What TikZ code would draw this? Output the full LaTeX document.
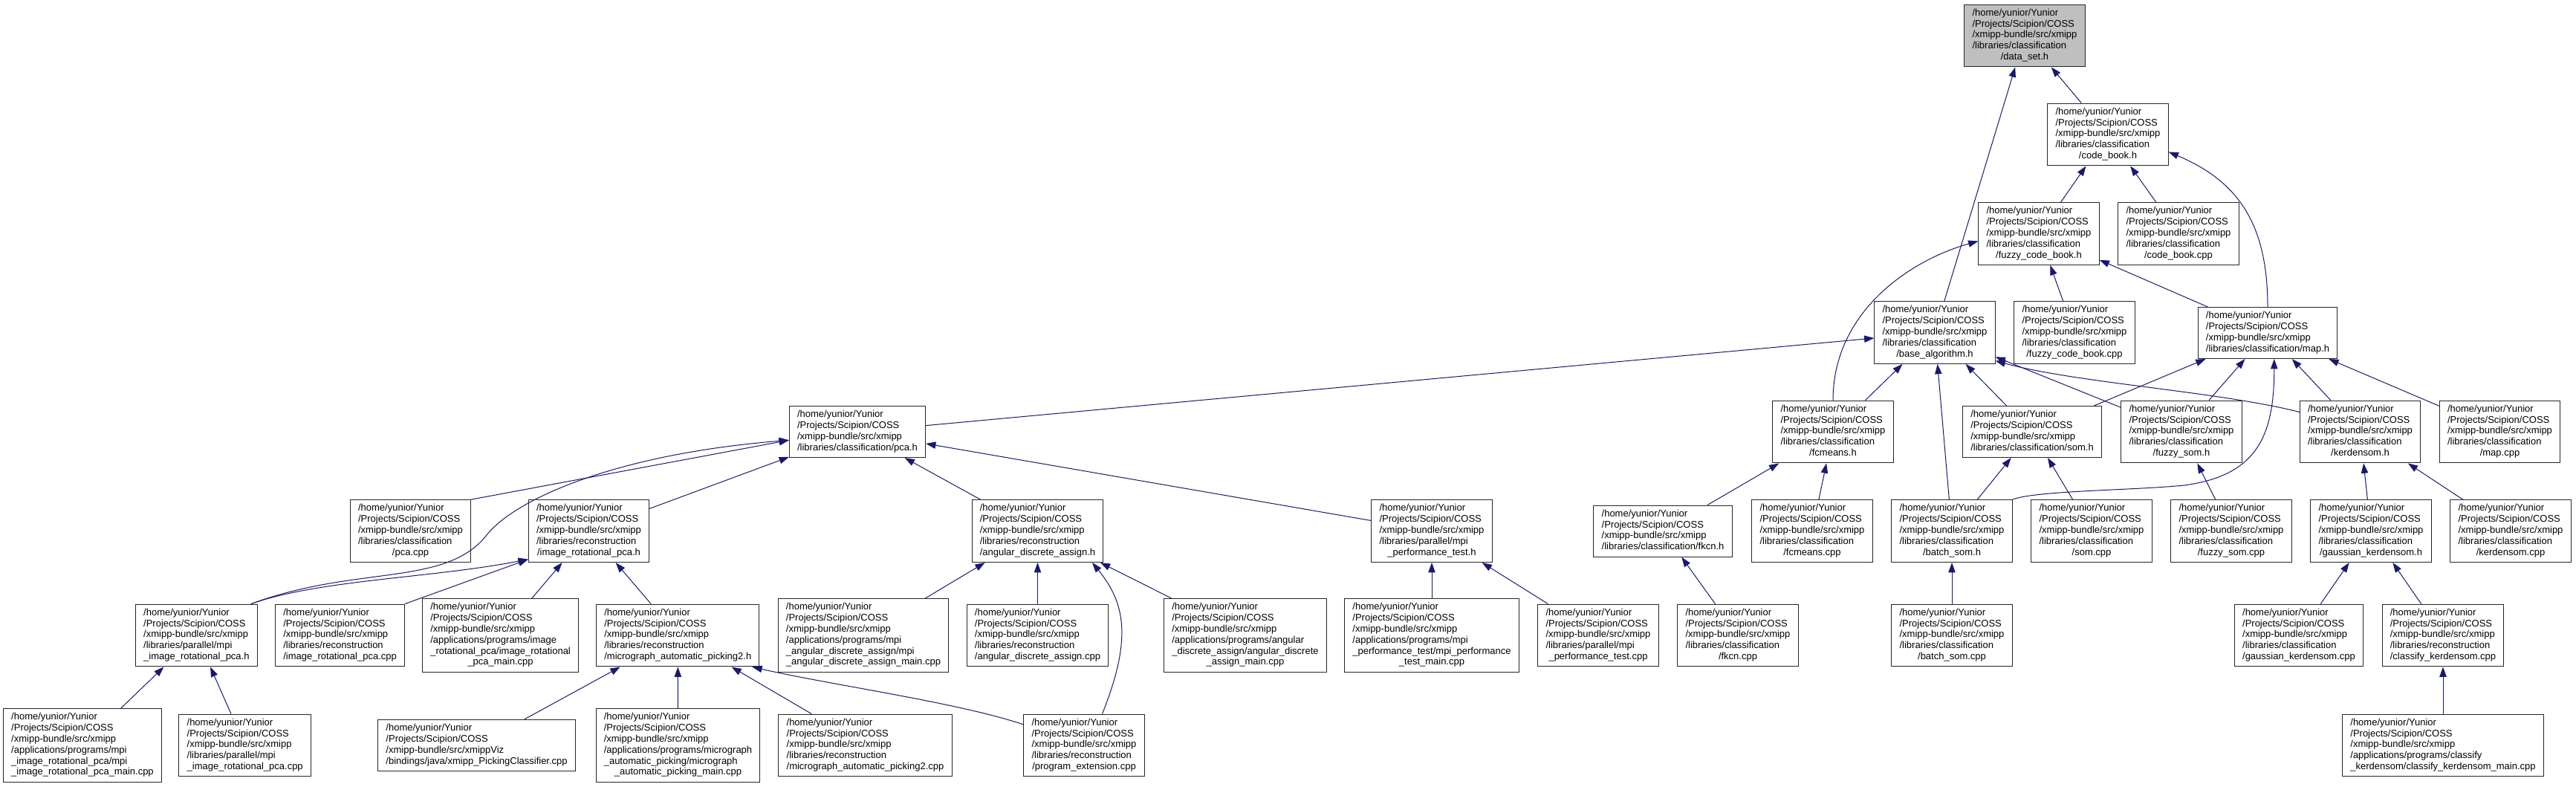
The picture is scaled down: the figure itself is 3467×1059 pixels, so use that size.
\documentclass[tikz,border=0pt]{standalone}
\usepackage{fontspec}
\setmainfont{Liberation Sans}
\usepackage{xcolor}
\usetikzlibrary{arrows.meta}

\definecolor{edgeblue}{HTML}{191970}

% file label: left-aligned lines, last line centred
\newcommand{\fpath}[2]{\begin{tabular}{@{}l@{}}#1\\\multicolumn{1}{@{}c@{}}{#2}\end{tabular}}
\newcommand{\xroot}{/home/yunior/Yunior\\/Projects/Scipion/COSS}
\newcommand{\xsrc}{\xroot\\/xmipp-bundle/src/xmipp}

\begin{document}
\begin{tikzpicture}[
  x=0.75pt, y=-0.75pt,
  every node/.style={font=\fontsize{9.75}{11.1}\selectfont},
  file/.style={draw=black!85, line width=0.75pt, fill=white, inner xsep=8pt, inner ysep=3.7pt},
  focus/.style={file, fill=gray!50},
  dep/.style={-{Triangle[length=10pt, width=7pt]}, draw=edgeblue, line width=0.75pt}
]
\useasboundingbox (0,0) rectangle (3467,1059);

% Top: the header and its direct users
\node[focus] (dataset)     at (2725,48)    {\fpath{\xsrc\\/libraries/classification}{/data\_set.h}};
\node[file]  (codebook)    at (2837,181)   {\fpath{\xsrc\\/libraries/classification}{/code\_book.h}};
\node[file]  (fuzzycb)     at (2744,314.5) {\fpath{\xsrc\\/libraries/classification}{/fuzzy\_code\_book.h}};
\node[file]  (codebookcpp) at (2932,314.5) {\fpath{\xsrc\\/libraries/classification}{/code\_book.cpp}};
\node[file]  (basealg)     at (2604,447.5) {\fpath{\xsrc\\/libraries/classification}{/base\_algorithm.h}};
\node[file]  (fuzzycbcpp)  at (2792,447.5) {\fpath{\xsrc\\/libraries/classification}{/fuzzy\_code\_book.cpp}};
\node[file]  (maph)        at (3052,448)   {\fpath{\xsrc}{/libraries/classification/map.h}};

% Row of algorithm headers
\node[file] (pcah)       at (1154,581)   {\fpath{\xsrc}{/libraries/classification/pca.h}};
\node[file] (fcmeansh)   at (2467,581)   {\fpath{\xsrc\\/libraries/classification}{/fcmeans.h}};
\node[file] (somh)       at (2735,581)   {\fpath{\xsrc}{/libraries/classification/som.h}};
\node[file] (fuzzysomh)  at (2936,581)   {\fpath{\xsrc\\/libraries/classification}{/fuzzy\_som.h}};
\node[file] (kerdensomh) at (3176.5,581) {\fpath{\xsrc\\/libraries/classification}{/kerdensom.h}};
\node[file] (mapcpp)     at (3364.5,581) {\fpath{\xsrc\\/libraries/classification}{/map.cpp}};

% Second level
\node[file] (pcacpp)       at (552.5,714.6)  {\fpath{\xsrc\\/libraries/classification}{/pca.cpp}};
\node[file] (irpcah)       at (792.5,714.6)  {\fpath{\xsrc\\/libraries/reconstruction}{/image\_rotational\_pca.h}};
\node[file] (adah)         at (1396.5,714.6) {\fpath{\xsrc\\/libraries/reconstruction}{/angular\_discrete\_assign.h}};
\node[file] (mpiperfh)     at (1927,714.6)   {\fpath{\xsrc\\/libraries/parallel/mpi}{\_performance\_test.h}};
\node[file] (fkcnh)        at (2238,714.6)   {\fpath{\xsrc}{/libraries/classification/fkcn.h}};
\node[file] (fcmeanscpp)   at (2439,714.6)   {\fpath{\xsrc\\/libraries/classification}{/fcmeans.cpp}};
\node[file] (batchsomh)    at (2627,714.6)   {\fpath{\xsrc\\/libraries/classification}{/batch\_som.h}};
\node[file] (somcpp)       at (2815,714.6)   {\fpath{\xsrc\\/libraries/classification}{/som.cpp}};
\node[file] (fuzzysomcpp)  at (3003,714.6)   {\fpath{\xsrc\\/libraries/classification}{/fuzzy\_som.cpp}};
\node[file] (gausskh)      at (3191,714.6)   {\fpath{\xsrc\\/libraries/classification}{/gaussian\_kerdensom.h}};
\node[file] (kerdensomcpp) at (3379,714.6)   {\fpath{\xsrc\\/libraries/classification}{/kerdensom.cpp}};

% Third level
\node[file] (mpiirph)      at (264.4,855)  {\fpath{\xsrc\\/libraries/parallel/mpi}{\_image\_rotational\_pca.h}};
\node[file] (irpcacpp)     at (457.6,855)  {\fpath{\xsrc\\/libraries/reconstruction}{/image\_rotational\_pca.cpp}};
\node[file] (irpcamain)    at (673.6,855)  {\fpath{\xsrc\\/applications/programs/image\\\_rotational\_pca/image\_rotational}{\_pca\_main.cpp}};
\node[file] (mapick2h)     at (912.3,855)  {\fpath{\xsrc\\/libraries/reconstruction}{/micrograph\_automatic\_picking2.h}};
\node[file] (mpiadamain)   at (1162,855)   {\fpath{\xsrc\\/applications/programs/mpi\\\_angular\_discrete\_assign/mpi}{\_angular\_discrete\_assign\_main.cpp}};
\node[file] (adacpp)       at (1396.5,855) {\fpath{\xsrc\\/libraries/reconstruction}{/angular\_discrete\_assign.cpp}};
\node[file] (adamain)      at (1676,855)   {\fpath{\xsrc\\/applications/programs/angular\\\_discrete\_assign/angular\_discrete}{\_assign\_main.cpp}};
\node[file] (mpiperfmain)  at (1927,855)   {\fpath{\xsrc\\/applications/programs/mpi\\\_performance\_test/mpi\_performance}{\_test\_main.cpp}};
\node[file] (mpiperfcpp)   at (2151,855)   {\fpath{\xsrc\\/libraries/parallel/mpi}{\_performance\_test.cpp}};
\node[file] (fkcncpp)      at (2339,855)   {\fpath{\xsrc\\/libraries/classification}{/fkcn.cpp}};
\node[file] (batchsomcpp)  at (2627,855)   {\fpath{\xsrc\\/libraries/classification}{/batch\_som.cpp}};
\node[file] (gausskcpp)    at (3094,855)   {\fpath{\xsrc\\/libraries/classification}{/gaussian\_kerdensom.cpp}};
\node[file] (classifykcpp) at (3288,855)   {\fpath{\xsrc\\/libraries/reconstruction}{/classify\_kerdensom.cpp}};

% Bottom row
\node[file] (mpiirpmain)    at (111,1003)    {\fpath{\xsrc\\/applications/programs/mpi\\\_image\_rotational\_pca/mpi}{\_image\_rotational\_pca\_main.cpp}};
\node[file] (mpiirpcpp)     at (329.7,1003)  {\fpath{\xsrc\\/libraries/parallel/mpi}{\_image\_rotational\_pca.cpp}};
\node[file] (pickclass)     at (641.6,1003)  {\fpath{\xroot\\/xmipp-bundle/src/xmippViz}{/bindings/java/xmipp\_PickingClassifier.cpp}};
\node[file] (mapickmain)    at (912.5,1003)  {\fpath{\xsrc\\/applications/programs/micrograph\\\_automatic\_picking/micrograph}{\_automatic\_picking\_main.cpp}};
\node[file] (mapick2cpp)    at (1164.5,1003) {\fpath{\xsrc\\/libraries/reconstruction}{/micrograph\_automatic\_picking2.cpp}};
\node[file] (progext)       at (1459,1003)   {\fpath{\xsrc\\/libraries/reconstruction}{/program\_extension.cpp}};
\node[file] (classifykmain) at (3288,1003)   {\fpath{\xsrc\\/applications/programs/classify}{\_kerdensom/classify\_kerdensom\_main.cpp}};

% data_set.h and code book chain
\draw[dep] (basealg) -- (dataset);
\draw[dep] (codebook) -- (dataset);
\draw[dep] (fuzzycb) -- (codebook);
\draw[dep] (codebookcpp) -- (codebook);
\draw[dep] (maph.north) .. controls +(0,-110) and +(95,40) .. (codebook.-16);
\draw[dep] (fuzzycbcpp) -- (fuzzycb);
\draw[dep] (maph) -- (fuzzycb);
\draw[dep] (fcmeansh.north) .. controls +(0,-120) and +(-90,25) .. (fuzzycb.187);

% base_algorithm.h users
\draw[dep] (pcah) -- (basealg);
\draw[dep] (fcmeansh) -- (basealg);
\draw[dep] (somh) -- (basealg);
\draw[dep] (batchsomh) -- (basealg);
\draw[dep] (fuzzysomh) -- (basealg);
\draw[dep] (kerdensomh.162) .. controls +(-110,-28) and +(110,30) .. (basealg.-25);

% map.h users
\draw[dep] (somh) -- (maph);
\draw[dep] (fuzzysomh) -- (maph);
\draw[dep] (kerdensomh) -- (maph);
\draw[dep] (mapcpp) -- (maph);
\draw[dep] (batchsomh.north east) .. controls (2740,660) and (2870,660) .. (2940,653)
  .. controls (3035,640) and (3061,590) .. (maph.-76);

% classification leaves
\draw[dep] (fkcnh) -- (fcmeansh);
\draw[dep] (fcmeanscpp) -- (fcmeansh);
\draw[dep] (batchsomh) -- (somh);
\draw[dep] (somcpp) -- (somh);
\draw[dep] (fuzzysomcpp) -- (fuzzysomh);
\draw[dep] (gausskh) -- (kerdensomh);
\draw[dep] (kerdensomcpp) -- (kerdensomh);
\draw[dep] (fkcncpp) -- (fkcnh);
\draw[dep] (batchsomcpp) -- (batchsomh);
\draw[dep] (gausskcpp) -- (gausskh);
\draw[dep] (classifykcpp) -- (gausskh);
\draw[dep] (classifykmain) -- (classifykcpp);

% pca.h users
\draw[dep] (pcacpp.north east) -- (pcah.187);
\draw[dep] (irpcah) -- (pcah);
\draw[dep] (adah) -- (pcah);
\draw[dep] (mpiperfh) -- (pcah);
\draw[dep] (mpiirph.30) .. controls (480,760) and (600,790) .. (655,720)
  .. controls (690,675) and (820,612) .. (pcah.187);

% image_rotational_pca.h users
\draw[dep] (mpiirph.30) .. controls (430,780) and (580,778) .. (irpcah.205);
\draw[dep] (irpcacpp.north east) -- (irpcah.205);
\draw[dep] (irpcamain) -- (irpcah);
\draw[dep] (mapick2h) -- (irpcah);
\draw[dep] (mpiirpmain) -- (mpiirph);
\draw[dep] (mpiirpcpp) -- (mpiirph);

% micrograph_automatic_picking2.h users
\draw[dep] (pickclass) -- (mapick2h);
\draw[dep] (mapickmain) -- (mapick2h);
\draw[dep] (mapick2cpp) -- (mapick2h);
\draw[dep] (progext.161) .. controls +(-90,-30) and +(110,25) .. (mapick2h.-23);

% angular_discrete_assign.h and mpi_performance_test.h users
\draw[dep] (mpiadamain) -- (adah);
\draw[dep] (adacpp) -- (adah);
\draw[dep] (adamain) -- (adah);
\draw[dep] (progext.60) .. controls +(40,-100) and +(45,55) .. (adah.-30);
\draw[dep] (mpiperfmain) -- (mpiperfh);
\draw[dep] (mpiperfcpp) -- (mpiperfh);

\end{tikzpicture}
\end{document}
